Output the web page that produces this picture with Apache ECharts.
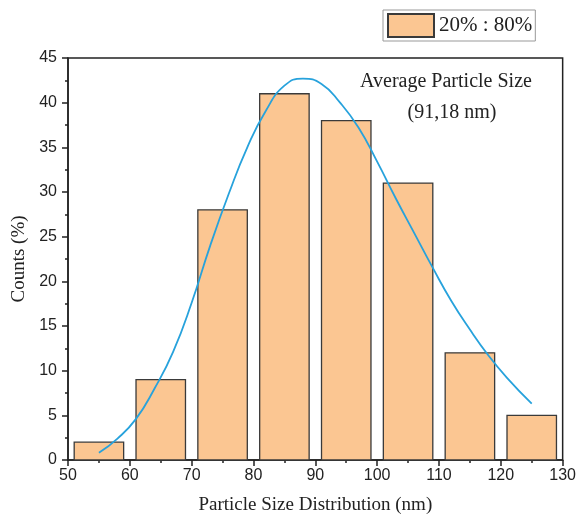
<!DOCTYPE html>
<html>
<head>
<meta charset="utf-8">
<script src="https://cdn.jsdelivr.net/npm/echarts@6/dist/echarts.min.js"></script>
<style>html,body{margin:0;padding:0;background:#fff;}#c{width:579px;height:520px;}</style>
</head>
<body>
<div id="c"></div>
<script>
// ---- data ----
var binCenters = [55, 65, 75, 85, 95, 105, 115, 125];
var counts = [2, 9, 28, 41, 38, 31, 12, 5];
var binWidth = 8;
var curveX = [55, 58, 61, 64, 67, 70, 73, 76, 79, 82, 85, 88, 91, 94, 97, 100, 103, 106, 109, 112, 115, 118, 121, 125];
var curveY = [0.8, 2.4, 4.6, 8.0, 12.1, 17.6, 24.0, 29.8, 35.0, 39.1, 41.9, 42.7, 42.1, 40.0, 37.2, 33.4, 29.3, 25.4, 21.5, 17.8, 14.6, 11.7, 9.2, 6.3];
var seriesName = '20% : 80%';
var xTitle = 'Particle Size Distribution (nm)';
var yTitle = 'Counts (%)';
var noteLines = ['Average Particle Size', '(91,18 nm)'];

var barData = binCenters.map(function (c, i) { return [c, counts[i]]; });
var lineData = curveX.map(function (x, i) { return [x, curveY[i]]; });

var serif = '"Liberation Serif", "Times New Roman", serif';
var sans = '"Liberation Sans", Arial, sans-serif';

var chart = echarts.init(document.getElementById('c'));
chart.setOption({
  animation: false,
  grid: { left: 68, right: 12, top: 58, bottom: 60, show: true, borderColor: '#222', borderWidth: 1.5, backgroundColor: 'transparent' },
  legend: {
    data: [seriesName], left: 383, top: 10,
    padding: [3, 3, 3, 4], borderColor: '#999', borderWidth: 1,
    itemWidth: 46, itemHeight: 23, icon: 'rect',
    textStyle: { fontFamily: serif, fontSize: 21, color: '#222' }
  },
  xAxis: {
    type: 'value', min: 50, max: 130, interval: 10,
    name: xTitle, nameLocation: 'middle', nameGap: 36,
    nameTextStyle: { fontFamily: serif, fontSize: 19, color: '#222' },
    axisLine: { show: true, lineStyle: { color: '#222', width: 1.5 } },
    axisTick: { show: true, length: 6, lineStyle: { color: '#222', width: 1.5 } },
    minorTick: { show: true, splitNumber: 2, length: 3, lineStyle: { color: '#222', width: 1.5 } },
    axisLabel: { fontFamily: sans, fontSize: 16, color: '#222', margin: 8 },
    splitLine: { show: false }
  },
  yAxis: {
    type: 'value', min: 0, max: 45, interval: 5,
    name: yTitle, nameLocation: 'middle', nameGap: 34, nameRotate: 90,
    nameTextStyle: { fontFamily: serif, fontSize: 19, color: '#222' },
    axisLine: { show: true, lineStyle: { color: '#222', width: 1.5 } },
    axisTick: { show: true, length: 6, lineStyle: { color: '#222', width: 1.5 } },
    minorTick: { show: true, splitNumber: 2, length: 3, lineStyle: { color: '#222', width: 1.5 } },
    axisLabel: { fontFamily: sans, fontSize: 16, color: '#222', margin: 11 },
    splitLine: { show: false }
  },
  graphic: [
    { type: 'text', x: 446, y: 72, style: { text: noteLines[0], fontFamily: serif, fontSize: 20, fill: '#222', textAlign: 'center' } },
    { type: 'text', x: 452, y: 103, style: { text: noteLines[1], fontFamily: serif, fontSize: 20, fill: '#222', textAlign: 'center' } }
  ],
  series: [
    {
      name: seriesName, type: 'custom',
      itemStyle: { color: '#FBC692', borderColor: '#3a3a3a', borderWidth: 1.3 },
      data: barData,
      encode: { x: 0, y: 1 },
      renderItem: function (params, api) {
        var c = api.value(0), v = api.value(1);
        var p0 = api.coord([c - binWidth / 2, v]);
        var p1 = api.coord([c + binWidth / 2, 0]);
        return {
          type: 'rect',
          shape: { x: p0[0], y: p0[1], width: p1[0] - p0[0], height: p1[1] - p0[1] },
          style: api.style({ fill: '#FBC692', stroke: '#3a3a3a', lineWidth: 1.3 })
        };
      },
      z: 2
    },
    {
      name: 'fit', type: 'line', data: lineData, smooth: 0.5, showSymbol: false,
      lineStyle: { color: '#27A2DC', width: 1.8 }, z: 3
    }
  ]
});
</script>
</body>
</html>
